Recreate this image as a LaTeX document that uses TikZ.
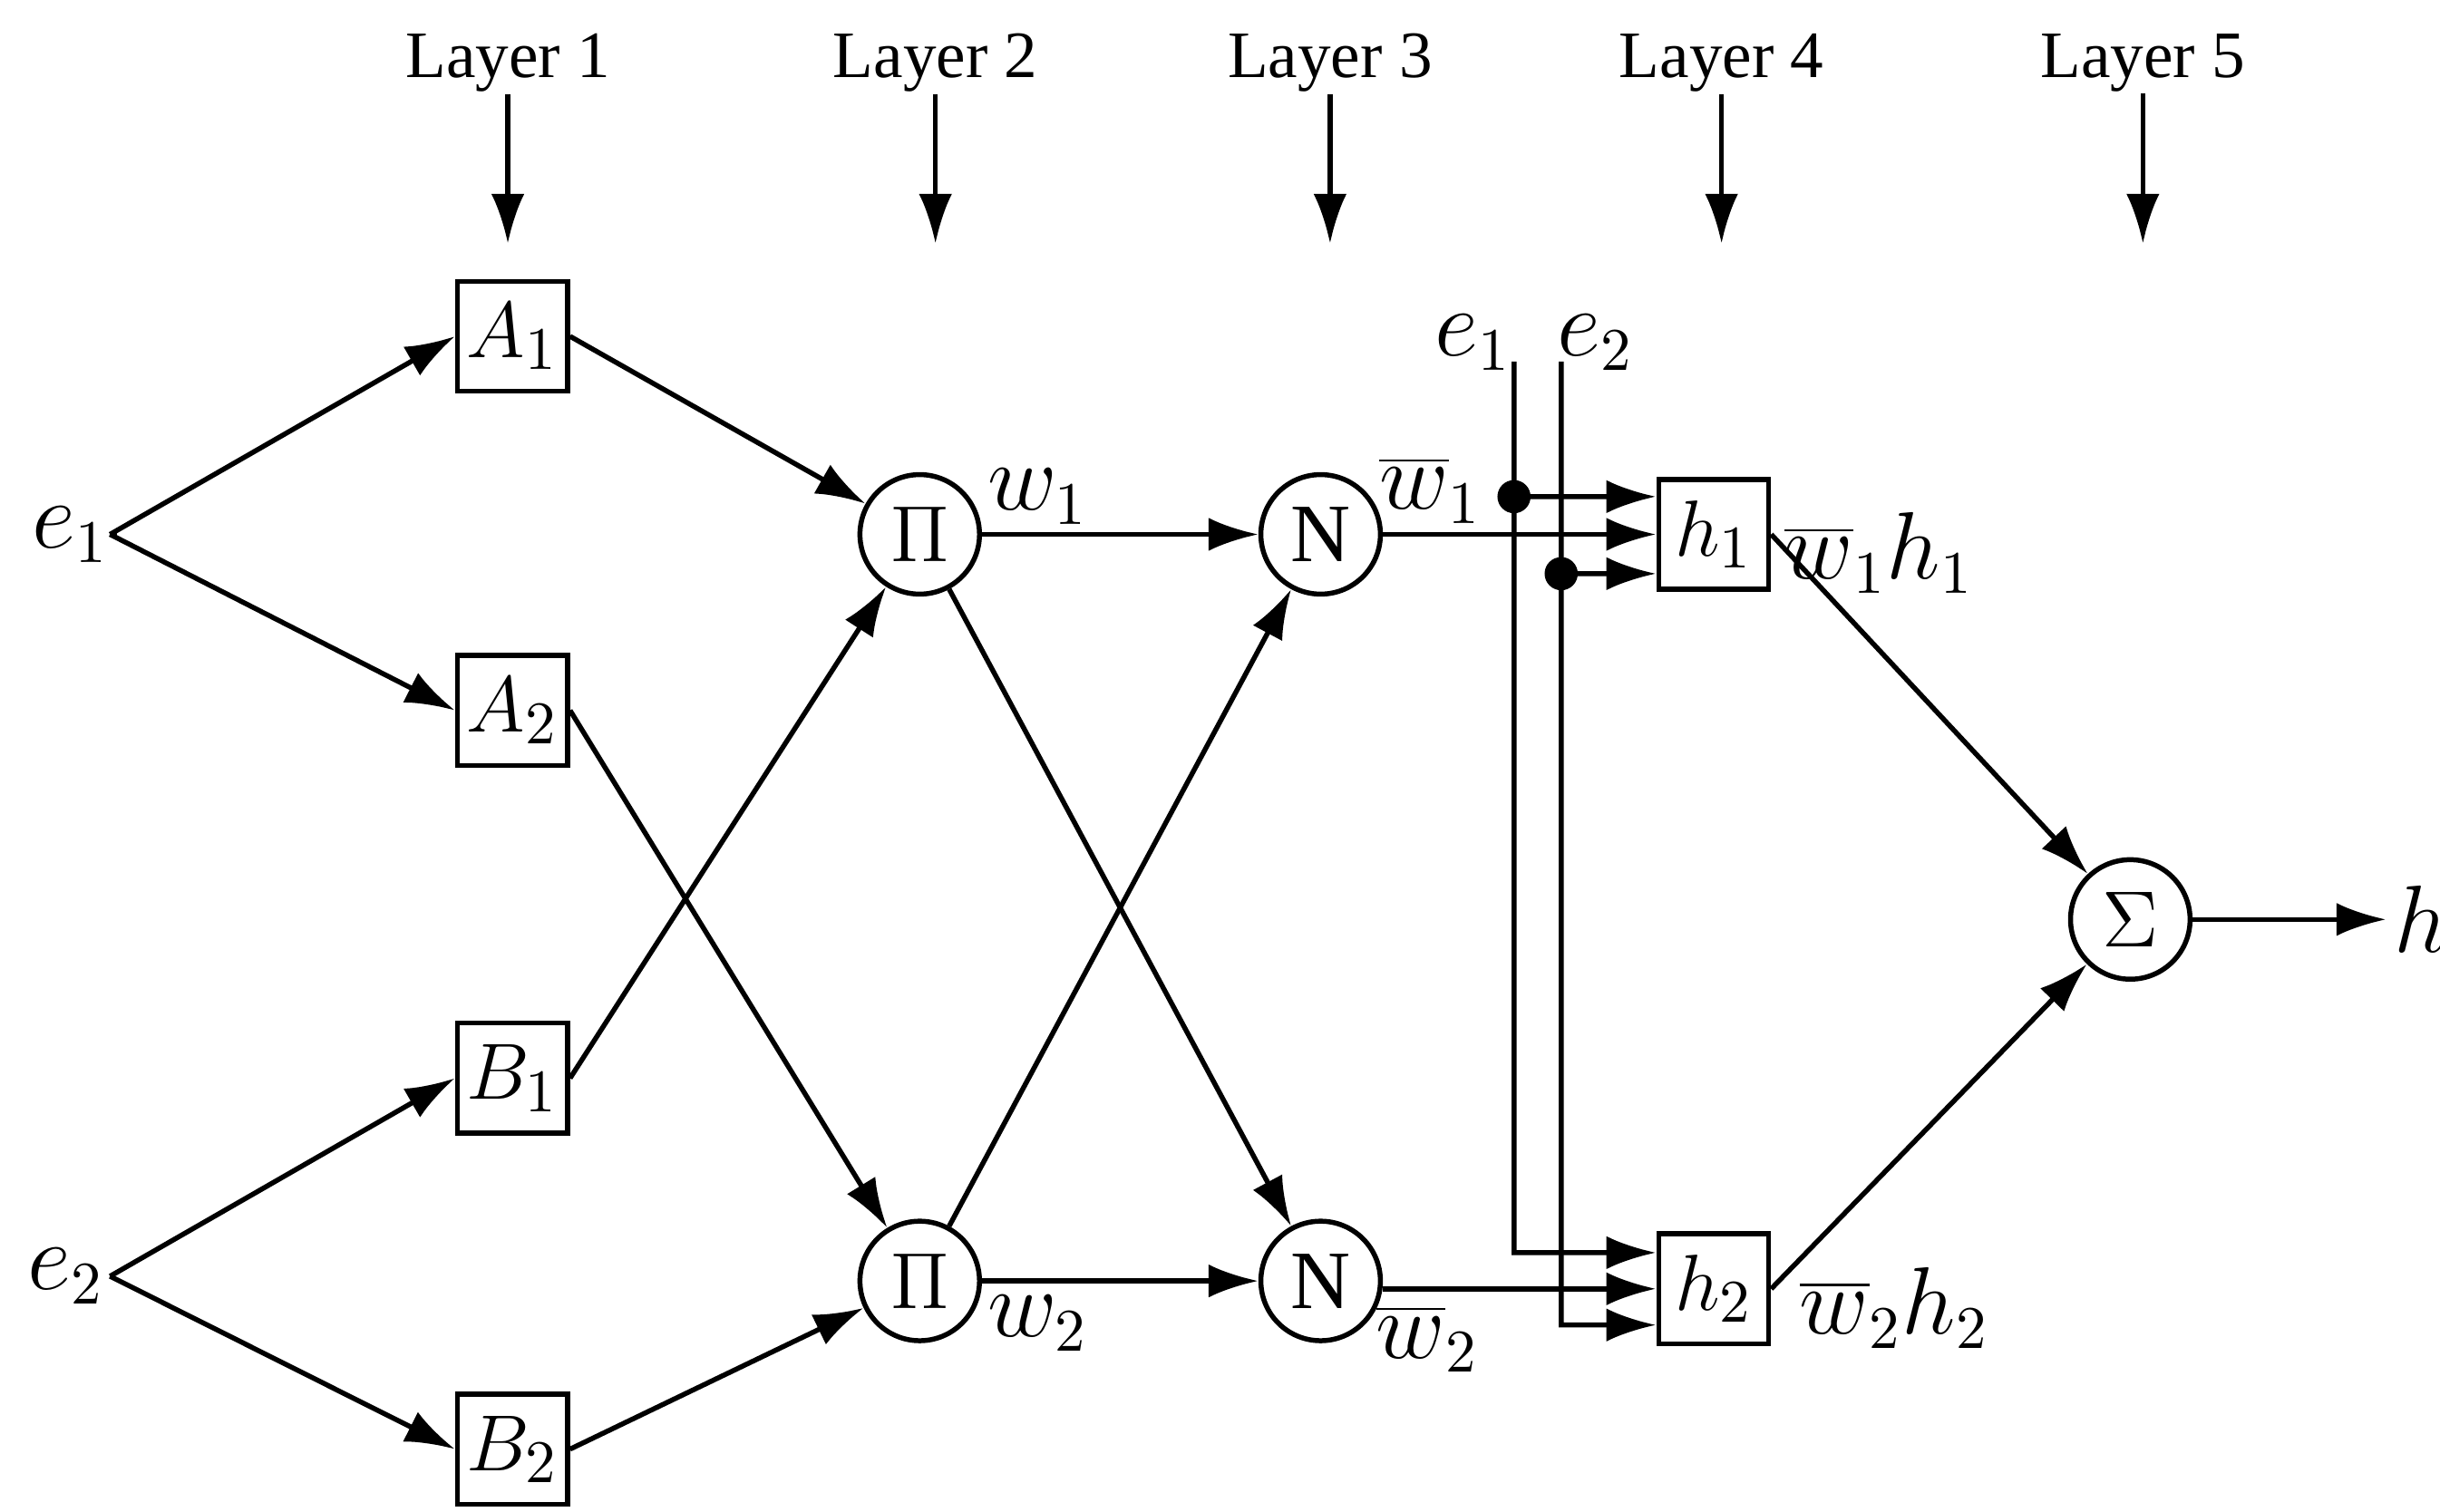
\documentclass[tikz,border=0pt]{standalone}
\usepackage{fontspec}
\setmainfont{Liberation Serif}
\usepackage{tikz}
\usetikzlibrary{arrows,arrows.meta}

\begin{document}
\begin{tikzpicture}[%
		x=0.01cm, y=-0.01cm,
		line width=0.9pt,
		font=\fontsize{12}{14}\selectfont,
		>={Latex[length=9pt,width=6pt]},
		blk/.style={draw, minimum size=0.7cm, inner sep=0pt, font=\fontsize{15}{17}\selectfont},
		neu/.style={draw, circle, minimum size=0.76cm, inner sep=0pt, font=\fontsize{15}{17}\selectfont},
		lbl/.style={font=\fontsize{16}{18}\selectfont, inner sep=1pt}
		]

		\useasboundingbox (0,0) rectangle (1552,962);

		%% Ueberschriften
		\foreach \n/\x in {1/323,2/595,3/846,4/1095,5/1363} {
			\node (L\n) at (\x,40) {Layer \n};
			\coordinate (T\n) at (\x,155);
			\draw [->] (L\n.south) ++(0,-12) -- (T\n);
		}

		%% Eingaenge
		\node [lbl] (e1) at (45,340) {$e_1$};
		\node [lbl] (e2) at (42,812) {$e_2$};
		\coordinate (j1) at (70,340);
		\coordinate (j2) at (70,812);

		%% Schicht 1
		\node [blk] (A1) at (326,214) {$A_1$};
		\node [blk] (A2) at (326,452) {$A_2$};
		\node [blk] (B1) at (326,686) {$B_1$};
		\node [blk] (B2) at (326,922) {$B_2$};

		%% Schicht 2 und 3
		\node [neu] (P1) at (585,340) {$\Pi$};
		\node [neu] (P2) at (585,815) {$\Pi$};
		\node [neu] (N1) at (840,340) {N};
		\node [neu] (N2) at (840,815) {N};

		%% Schicht 4 und 5
		\node [blk] (H1) at (1090,340) {$h_1$};
		\node [blk] (H2) at (1090,820) {$h_2$};
		\node [neu] (S) at (1355,585) {$\Sigma$};
		\node [lbl] (h) at (1540,585) {$h$};

		\draw [->] (j1) -- (A1.west);
		\draw [->] (j1) -- (A2.west);
		\draw [->] (j2) -- (B1.west);
		\draw [->] (j2) -- (B2.west);
		\draw (e1.east) -- (j1);
		\draw (e2.east) -- (j2);

		\draw [->] (A1.east) -- (P1);
		\draw [->] (B1.east) -- (P1);
		\draw [->] (A2.east) -- (P2);
		\draw [->] (B2.east) -- (P2);

		\draw [->] (P1) -- (N1);
		\draw [->] (P1) -- (N2);
		\draw [->] (P2) -- (N1);
		\draw [->] (P2) -- (N2);

		%% Rueckfuehrung e1, e2
		\node [lbl] (ee1) at (937,218) {$e_1$};
		\node [lbl] (ee2) at (1015,218) {$e_2$};
		\coordinate (v1) at (963,230);
		\coordinate (v2) at (993,230);
		\coordinate (d1) at (963,316);
		\coordinate (d2) at (993,365);
		\draw [->] (v1) -- (963,797) -- ([yshift=0.23cm]H2.west);
		\draw [->] (v2) -- (993,843) -- ([yshift=-0.23cm]H2.west);
		\draw [->] (d1) -- ([yshift=0.24cm]H1.west);
		\draw [->] (d2) -- ([yshift=-0.25cm]H1.west);
		\fill (d1) circle (3pt);
		\fill (d2) circle (3pt);

		\draw [->] (N1) -- (H1.west);
		\draw [->] (H2.west -| N2.east) -- (H2.west);
		\draw [->] (H1.east) -- (S);
		\draw [->] (H2.east) -- (S);
		\draw [->] (S) -- (h.west);

		%% Beschriftungen
		\node [lbl] (w1) at (660,316) {$w_1$};
		\node [lbl] (w2) at (660,842) {$w_2$};
		\node [lbl] (wb1) at (910,312) {$\overline{w}_1$};
		\node [lbl] (wb2) at (908,852) {$\overline{w}_2$};
		\node [lbl] (wh1) at (1195,352) {$\overline{w}_1 h_1$};
		\node [lbl] (wh2) at (1205,832) {$\overline{w}_2 h_2$};

	\end{tikzpicture}
\end{document}
